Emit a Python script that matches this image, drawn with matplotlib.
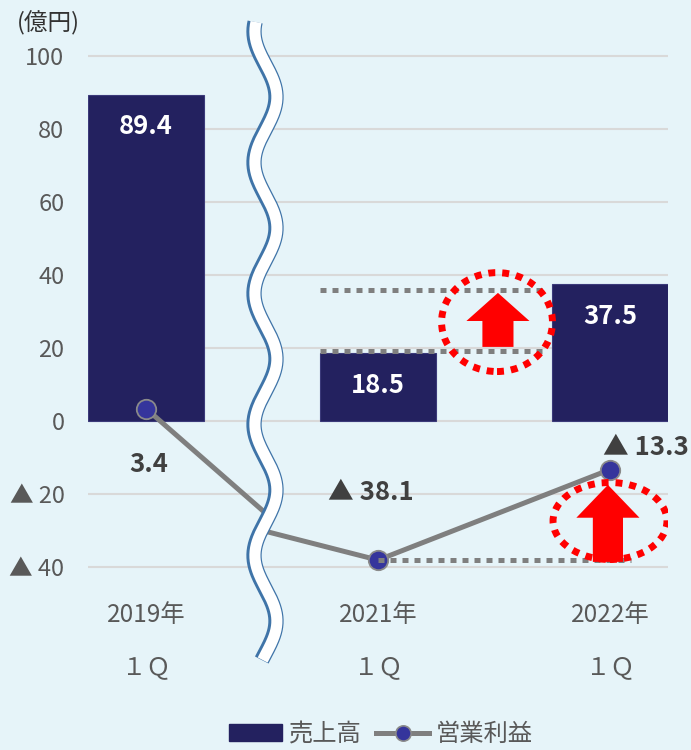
import matplotlib
matplotlib.use('Agg')
import matplotlib.pyplot as plt
import numpy as np
from matplotlib.patches import FancyArrow, Ellipse, Patch
from matplotlib.lines import Line2D

plt.rcParams['font.family'] = ['Noto Sans CJK JP', 'DejaVu Sans']

###########################################################################
# data
categories = ['2019年', '2021年', '2022年']
quarters = ['１Ｑ', '１Ｑ', '１Ｑ']
sales = [89.4, 18.5, 37.5]       # 売上高
profit = [3.4, -38.1, -13.3]     # 営業利益
# the profit line is bent where the axis is broken (hidden under the wave)
break_pos = 0.52
break_vals = [-25.5, -30.3]
# comparison guides
sales_levels = [35.8, 19.3]
yticks = [100, 80, 60, 40, 20, 0, -20, -40]

bg = '#e6f4f9'
navy = '#23215f'
gray_line = '#7f7f7f'
txt_dark = '#404040'
txt_gray = '#595959'

W, H = 691, 750
fig = plt.figure(figsize=(W / 100, H / 100), dpi=100, facecolor=bg)
ax = fig.add_axes([88 / W, 1 - 585.25 / H, 580 / W, 547.5 / H])
ax.set_facecolor(bg)

x = np.arange(len(categories))

###########################################################################
# bars
bars = ax.bar(x, sales, width=0.5, color=navy, edgecolor='#3b3a7a', linewidth=0.8, zorder=2)
for xi, v in zip(x, sales):
    ax.annotate('%.1f' % v, (xi, v), xytext=(0, -23), textcoords='offset points',
                ha='center', va='center', color='white', fontsize=18.5, fontweight='bold', zorder=6)

###########################################################################
# profit line
ax.plot([x[0], break_pos], [profit[0], break_vals[0]], color=gray_line, lw=3.6,
        solid_capstyle='butt', zorder=3)
ax.plot([break_pos, x[1], x[2]], [break_vals[1], profit[1], profit[2]], color=gray_line, lw=3.6,
        solid_capstyle='butt', zorder=3)
ax.plot(x, profit, ls='none', marker='o', ms=14, mfc='#35359c', mec='#8a8a8a', mew=1.3, zorder=5)

def lbl(v):
    return '%.1f' % v if v >= 0 else '▲ %.1f' % -v

offsets = [(2, -40), (-5, 49), (26, 16)]
for xi, v, off in zip(x, profit, offsets):
    ax.annotate(lbl(v), (xi, v), xytext=off, textcoords='offset points',
                ha='center', va='center', color=txt_dark, fontsize=18.5, fontweight='bold', zorder=6)

###########################################################################
# dotted guides
dot = dict(color=gray_line, lw=3.6, ls=(0, (1.2, 1.2)), dash_capstyle='butt', zorder=5.5)
ax.plot([0.75, 1.71], [sales_levels[0]] * 2, **dot)
ax.plot([0.75, 1.71], [sales_levels[1]] * 2, **dot)
ax.plot([x[1], 2.09], [profit[1]] * 2, **dot)

# red arrows in dotted circles
ax.add_patch(FancyArrow(1.517, 20.3, 0, 14.8, width=0.134, head_width=0.272, head_length=7.7,
                        length_includes_head=True, color='#ff0000', lw=0, zorder=7))
ax.add_patch(Ellipse((1.513, 27.1), 0.478, 27.1, fill=False, edgecolor='#ff0000', lw=5,
                     ls=(0, (1, 1)), zorder=7))
ax.add_patch(FancyArrow(1.991, -38.6, 0, 21.1, width=0.13, head_width=0.272, head_length=9.0,
                        length_includes_head=True, color='#ff0000', lw=0, zorder=7))
ax.add_patch(Ellipse((2.0, -27.4), 0.491, 21.1, fill=False, edgecolor='#ff0000', lw=5,
                     ls=(0, (1, 1)), zorder=7))

###########################################################################
# axes styling
ax.set_xlim(-0.25, 2.25)
ax.set_ylim(-45, 105)
ax.set_yticks(yticks)
ax.set_yticklabels(['%d' % v if v >= 0 else '▲ %d' % -v for v in yticks])
ax.set_xticks(x)
ax.set_xticklabels([c + '\n' + q for c, q in zip(categories, quarters)], linespacing=2.3)
ax.tick_params(axis='y', length=0, pad=17, labelsize=17, labelcolor=txt_gray)
ax.tick_params(axis='x', length=0, pad=12, labelsize=17.5, labelcolor=txt_gray)
for s in ax.spines.values():
    s.set_visible(False)
ax.yaxis.grid(True, color='#d9d9d9', lw=1.5)
ax.set_axisbelow(True)

fig.text(17 / W, 1 - 23 / H, '(億円)', ha='left', va='center', fontsize=17, color='#333333')

###########################################################################
# axis break wave (pixel coordinates)
wy = np.linspace(22, 660, 400)
wx = 265 + 11 * np.sin(2 * np.pi * (wy - 64.25) / 131)
ax.plot(wx / W, 1 - wy / H, transform=fig.transFigure, color='#3f74a8', lw=11,
        solid_capstyle='butt', clip_on=False, zorder=8)
ax.plot((wx + 0.9) / W, 1 - wy / H, transform=fig.transFigure, color='white', lw=8,
        solid_capstyle='butt', clip_on=False, zorder=9)

###########################################################################
# legend
handles = [Patch(facecolor=navy, edgecolor=navy),
           Line2D([], [], color=gray_line, lw=3.6, marker='o', ms=11, mfc='#35359c', mec='#8a8a8a', mew=1.2)]
leg = fig.legend(handles, ['売上高', '営業利益'], loc='center', bbox_to_anchor=(0.551, 0.021),
                 ncol=2, frameon=False, fontsize=17.5, handlelength=2.2, handletextpad=0.25,
                 columnspacing=0.6, borderpad=0, labelcolor=txt_gray)

fig.savefig('out.png', dpi=100, facecolor=bg)
